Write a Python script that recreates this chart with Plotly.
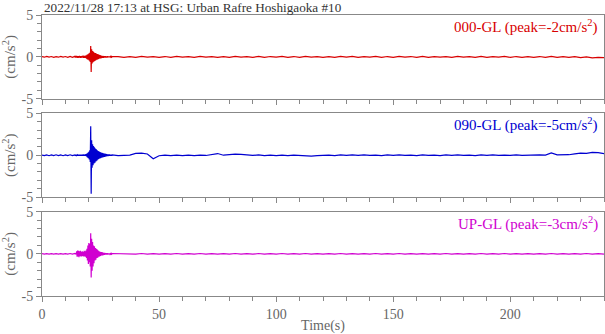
import numpy as np
import plotly.graph_objects as go

# ---------------- data ----------------
title_text = "2022/11/28 17:13 at HSG: Urban Rafre Hoshigaoka #10"
channels = ["000-GL", "090-GL", "UP-GL"]
peaks = [-2, -5, -3]
colors = ["#d80000", "#0000d0", "#d000d0"]
x_ticks = [0, 50, 100, 150, 200]
y_ticks = [-5, 0, 5]

# time grids: quiet start, burst window, quiet tail
t_pre = [0, 1, 2, 3, 4, 5, 6, 7, 8, 9, 10, 11, 12, 13]
t_burst = list(np.round(np.arange(14.0, 30.0001, 0.2), 1))
t_post = list(np.arange(32.5, 240.0001, 2.5))

red_pre = [0.03, -0.04, 0.05, -0.03, 0.04, -0.05, 0.03, -0.04, 0.05, -0.03, 0.04, -0.05, 0.06, -0.05]
blue_pre = [0.02, -0.05, 0.04, -0.06, 0.03, -0.04, 0.05, -0.05, 0.03, -0.06, 0.04, -0.04, 0.05, -0.05]
mag_pre = [0.02, -0.03, 0.03, -0.02, 0.03, -0.03, 0.02, -0.03, 0.03, -0.02, 0.03, -0.03, 0.04, -0.03]

red_burst = [0.06, -0.08, 0.1, -0.07, 0.12, -0.1, 0.08, -0.12, 0.1, -0.08, 0.12, -0.1, 0.09, -0.11, 0.1,
             -0.08, 0.12, -0.1, 0.14, -0.12, 0.1, -0.13, 0.15, -0.12, 0.14,
             -0.2, 0.25, -0.3, 0.3, -0.35, 0.4, -0.45, 0.5, -0.6,
             1.3, -1.8,
             0.9, -0.8, 0.7, -0.65, 0.6, -0.55, 0.5, -0.5, 0.45, -0.4, 0.4, -0.35, 0.35, -0.3, 0.3,
             -0.25, 0.25, -0.2, 0.2, -0.18, 0.15, -0.15, 0.12, -0.12, 0.1, -0.1, 0.09, -0.08, 0.08, -0.08,
             0.07, -0.07, 0.06, -0.06, 0.06, -0.05, 0.05, -0.05, 0.05, -0.05, 0.05, -0.04, 0.05, -0.04, 0.04]
blue_burst = [0.04, -0.05, 0.06, -0.04, 0.05, -0.06, 0.04, -0.05, 0.06, -0.05, 0.05, -0.06, 0.07, -0.05, 0.06,
              -0.07, 0.05, -0.06, 0.08, -0.07, 0.06, -0.08, 0.1, -0.08, 0.12,
              -0.15, 0.2, -0.25, 0.3, -0.35, 0.4, -0.5, 0.6, -0.8,
              3.45, -4.6,
              1.8, -1.5, 1.3, -1.2, 1.1, -1.0, 0.95, -0.9, 0.8, -0.75, 0.7, -0.65, 0.6, -0.55, 0.5,
              -0.45, 0.45, -0.4, 0.38, -0.35, 0.32, -0.3, 0.28, -0.25, 0.25, -0.22, 0.2, -0.2, 0.18, -0.16,
              0.15, -0.14, 0.12, -0.12, 0.1, -0.1, 0.09, -0.08, 0.08, -0.07, 0.07, -0.06, 0.06, -0.06, 0.05]
mag_burst = [0.04, -0.05, 0.06, -0.05,
             0.3, -0.35, 0.4, -0.3, 0.35, -0.4, 0.3, -0.25, 0.35, -0.3, 0.25, -0.3, 0.3, -0.25, 0.2, -0.3,
             0.35, -0.3, 0.3, -0.35, 0.4,
             -0.5, 0.6, -0.8, 1.0, -1.2, 1.3, -1.0, 1.2, -1.5,
             2.45, -2.8,
             1.8, -2.0, 1.4, -1.5, 1.0, -1.1, 0.9, -0.8, 0.7, -0.7, 0.6, -0.5, 0.5, -0.45, 0.4,
             -0.35, 0.3, -0.3, 0.25, -0.25, 0.2, -0.2, 0.2, -0.18, 0.15, -0.15, 0.12, -0.12, 0.1, -0.1,
             0.09, -0.08, 0.08, -0.07, 0.06, -0.06, 0.05, -0.05, 0.05, -0.05, 0.04, -0.04, 0.05, -0.04, 0.04]

red_post = [0.04, -0.05, 0.03, -0.06, 0.05, -0.04, 0.03, -0.05, 0.04, -0.06, 0.05, -0.04,
            0.04, -0.05, 0.06, -0.04, 0.03, -0.05, 0.04, -0.05, 0.05, -0.04, 0.03, -0.05,
            0.05, -0.06, 0.04, -0.04, 0.05, -0.05, 0.04, -0.06, 0.05, -0.04, 0.03, -0.05,
            0.04, -0.05, 0.05, -0.04, 0.06, -0.05, 0.03, -0.04, 0.05, -0.06, 0.04, -0.05,
            0.05, -0.04, 0.04, -0.06, 0.05, -0.05, 0.03, -0.04, 0.04, -0.05, 0.05, -0.04,
            0.03, -0.06, 0.05, -0.05, 0.04, -0.04, 0.05, -0.06, 0.04, -0.05, 0.03, -0.05,
            0.04, -0.06, 0.05, -0.05, 0.02, -0.07, 0.03, -0.08, 0.0, -0.12, -0.05, -0.08]
blue_post = [-0.05, -0.02, 0.02, 0.22, 0.25, 0.15, -0.42, -0.06, 0.0, -0.05, 0.02, -0.06,
             0.01, -0.04, 0.02, -0.03, 0.05, 0.2, 0.0, 0.1, 0.12, 0.1, 0.05, -0.02,
             0.03, -0.04, 0.02, -0.05, 0.01, -0.06, 0.0, -0.05, -0.08, -0.1, -0.06, -0.02,
             0.02, -0.04, 0.03, -0.03, 0.04, -0.02, 0.05, -0.03, 0.02, -0.04, 0.03, -0.02,
             0.04, -0.03, 0.02, -0.04, 0.03, -0.03, 0.02, -0.04, 0.03, -0.02, 0.04, -0.03,
             0.02, -0.04, 0.03, -0.02, 0.04, -0.03, 0.02, -0.03, 0.04, -0.02, 0.03, 0.0,
             0.05, 0.02, 0.28, 0.05, 0.02, 0.06, 0.15, 0.25, 0.22, 0.35, 0.3, 0.2]
mag_post = [0.03, -0.04, 0.03, -0.03, 0.04, -0.03, 0.02, -0.04, 0.03, -0.03, 0.04, -0.03,
            0.03, -0.03, 0.04, -0.03, 0.02, -0.04, 0.03, -0.03, 0.04, -0.03, 0.03, -0.04,
            0.04, -0.03, 0.03, -0.03, 0.04, -0.04, 0.03, -0.03, 0.04, -0.03, 0.02, -0.04,
            0.03, -0.04, 0.04, -0.03, 0.03, -0.03, 0.02, -0.04, 0.04, -0.03, 0.03, -0.03,
            0.04, -0.03, 0.03, -0.04, 0.03, -0.03, 0.02, -0.03, 0.04, -0.04, 0.03, -0.03,
            0.03, -0.04, 0.04, -0.03, 0.03, -0.03, 0.04, -0.04, 0.03, -0.03, 0.02, -0.04,
            0.03, -0.03, 0.04, -0.03, 0.03, -0.04, 0.03, -0.03, 0.04, -0.03, 0.03, -0.03]

series = [(red_pre, red_burst, red_post), (blue_pre, blue_burst, blue_post), (mag_pre, mag_burst, mag_post)]

# ---------------- figure ----------------
FONT = "Liberation Serif"
GRAY = "#666666"
FS = 14
domains = [[0.702, 1.0], [0.352, 0.650], [0.0, 0.300]]

fig = go.Figure()
layout = dict(
    width=605, height=334,
    margin=dict(l=42, r=1, t=15, b=38),
    paper_bgcolor="white", plot_bgcolor="white",
    showlegend=False,
    font=dict(family=FONT, size=FS, color=GRAY),
)

t_all = list(t_pre) + list(t_burst) + list(t_post)
for i, (pre, burst, post) in enumerate(series):
    assert len(pre) == len(t_pre) and len(burst) == len(t_burst) and len(post) == len(t_post)
    vals = list(pre) + list(burst) + list(post)
    n = "" if i == 0 else str(i + 1)
    fig.add_trace(go.Scatter(x=t_all, y=vals, mode="lines",
                             line=dict(color=colors[i], width=1.2),
                             xaxis="x" + n, yaxis="y" + n))
    layout["xaxis" + n] = dict(
        domain=[0, 1], anchor="y" + n, range=[0, 240],
        tickvals=x_ticks, showticklabels=(i == 2),
        ticks="outside", ticklen=5, tickcolor="#888888",
        minor=dict(dtick=10, tick0=0, ticks="outside", ticklen=4, tickcolor="#888888"),
        showline=True, linecolor="#888888", linewidth=1, mirror=True,
        showgrid=False, zeroline=False,
        tickfont=dict(family=FONT, size=FS, color=GRAY),
        title=dict(text="Time(s)", standoff=1, font=dict(family=FONT, size=FS, color=GRAY)) if i == 2 else None,
    )
    if i != 0:
        layout["xaxis" + n]["matches"] = "x"
    layout["yaxis" + n] = dict(
        domain=domains[i], anchor="x" + n, range=[-5, 5],
        tickvals=y_ticks, ticktext=[str(v) for v in y_ticks],
        ticks="outside", ticklen=5, tickcolor="#888888",
        minor=dict(dtick=1, tick0=0, ticks="outside", ticklen=4, tickcolor="#888888"),
        showline=True, linecolor="#888888", linewidth=1, mirror=True,
        showgrid=False, zeroline=False,
        tickfont=dict(family=FONT, size=FS, color=GRAY),
        title=dict(text="(cm/s<sup>2</sup>)", standoff=5, font=dict(family=FONT, size=15, color=GRAY)),
    )

fig.update_layout(**layout)

for i in range(3):
    n = "" if i == 0 else str(i + 1)
    fig.add_annotation(
        text=f"{channels[i]} (peak={peaks[i]}cm/s<sup>2</sup>)",
        xref="x" + n + " domain", yref="y" + n + " domain",
        x=1, y=1, xanchor="right", yanchor="top", xshift=-4, yshift=0,
        showarrow=False, font=dict(family=FONT, size=15, color=colors[i]),
    )

fig.add_annotation(text=title_text, xref="paper", yref="paper", x=0, y=1,
                   xanchor="left", yanchor="bottom", yshift=-2, showarrow=False,
                   font=dict(family=FONT, size=13.2, color="#333333"))

fig.write_html("out.html")
